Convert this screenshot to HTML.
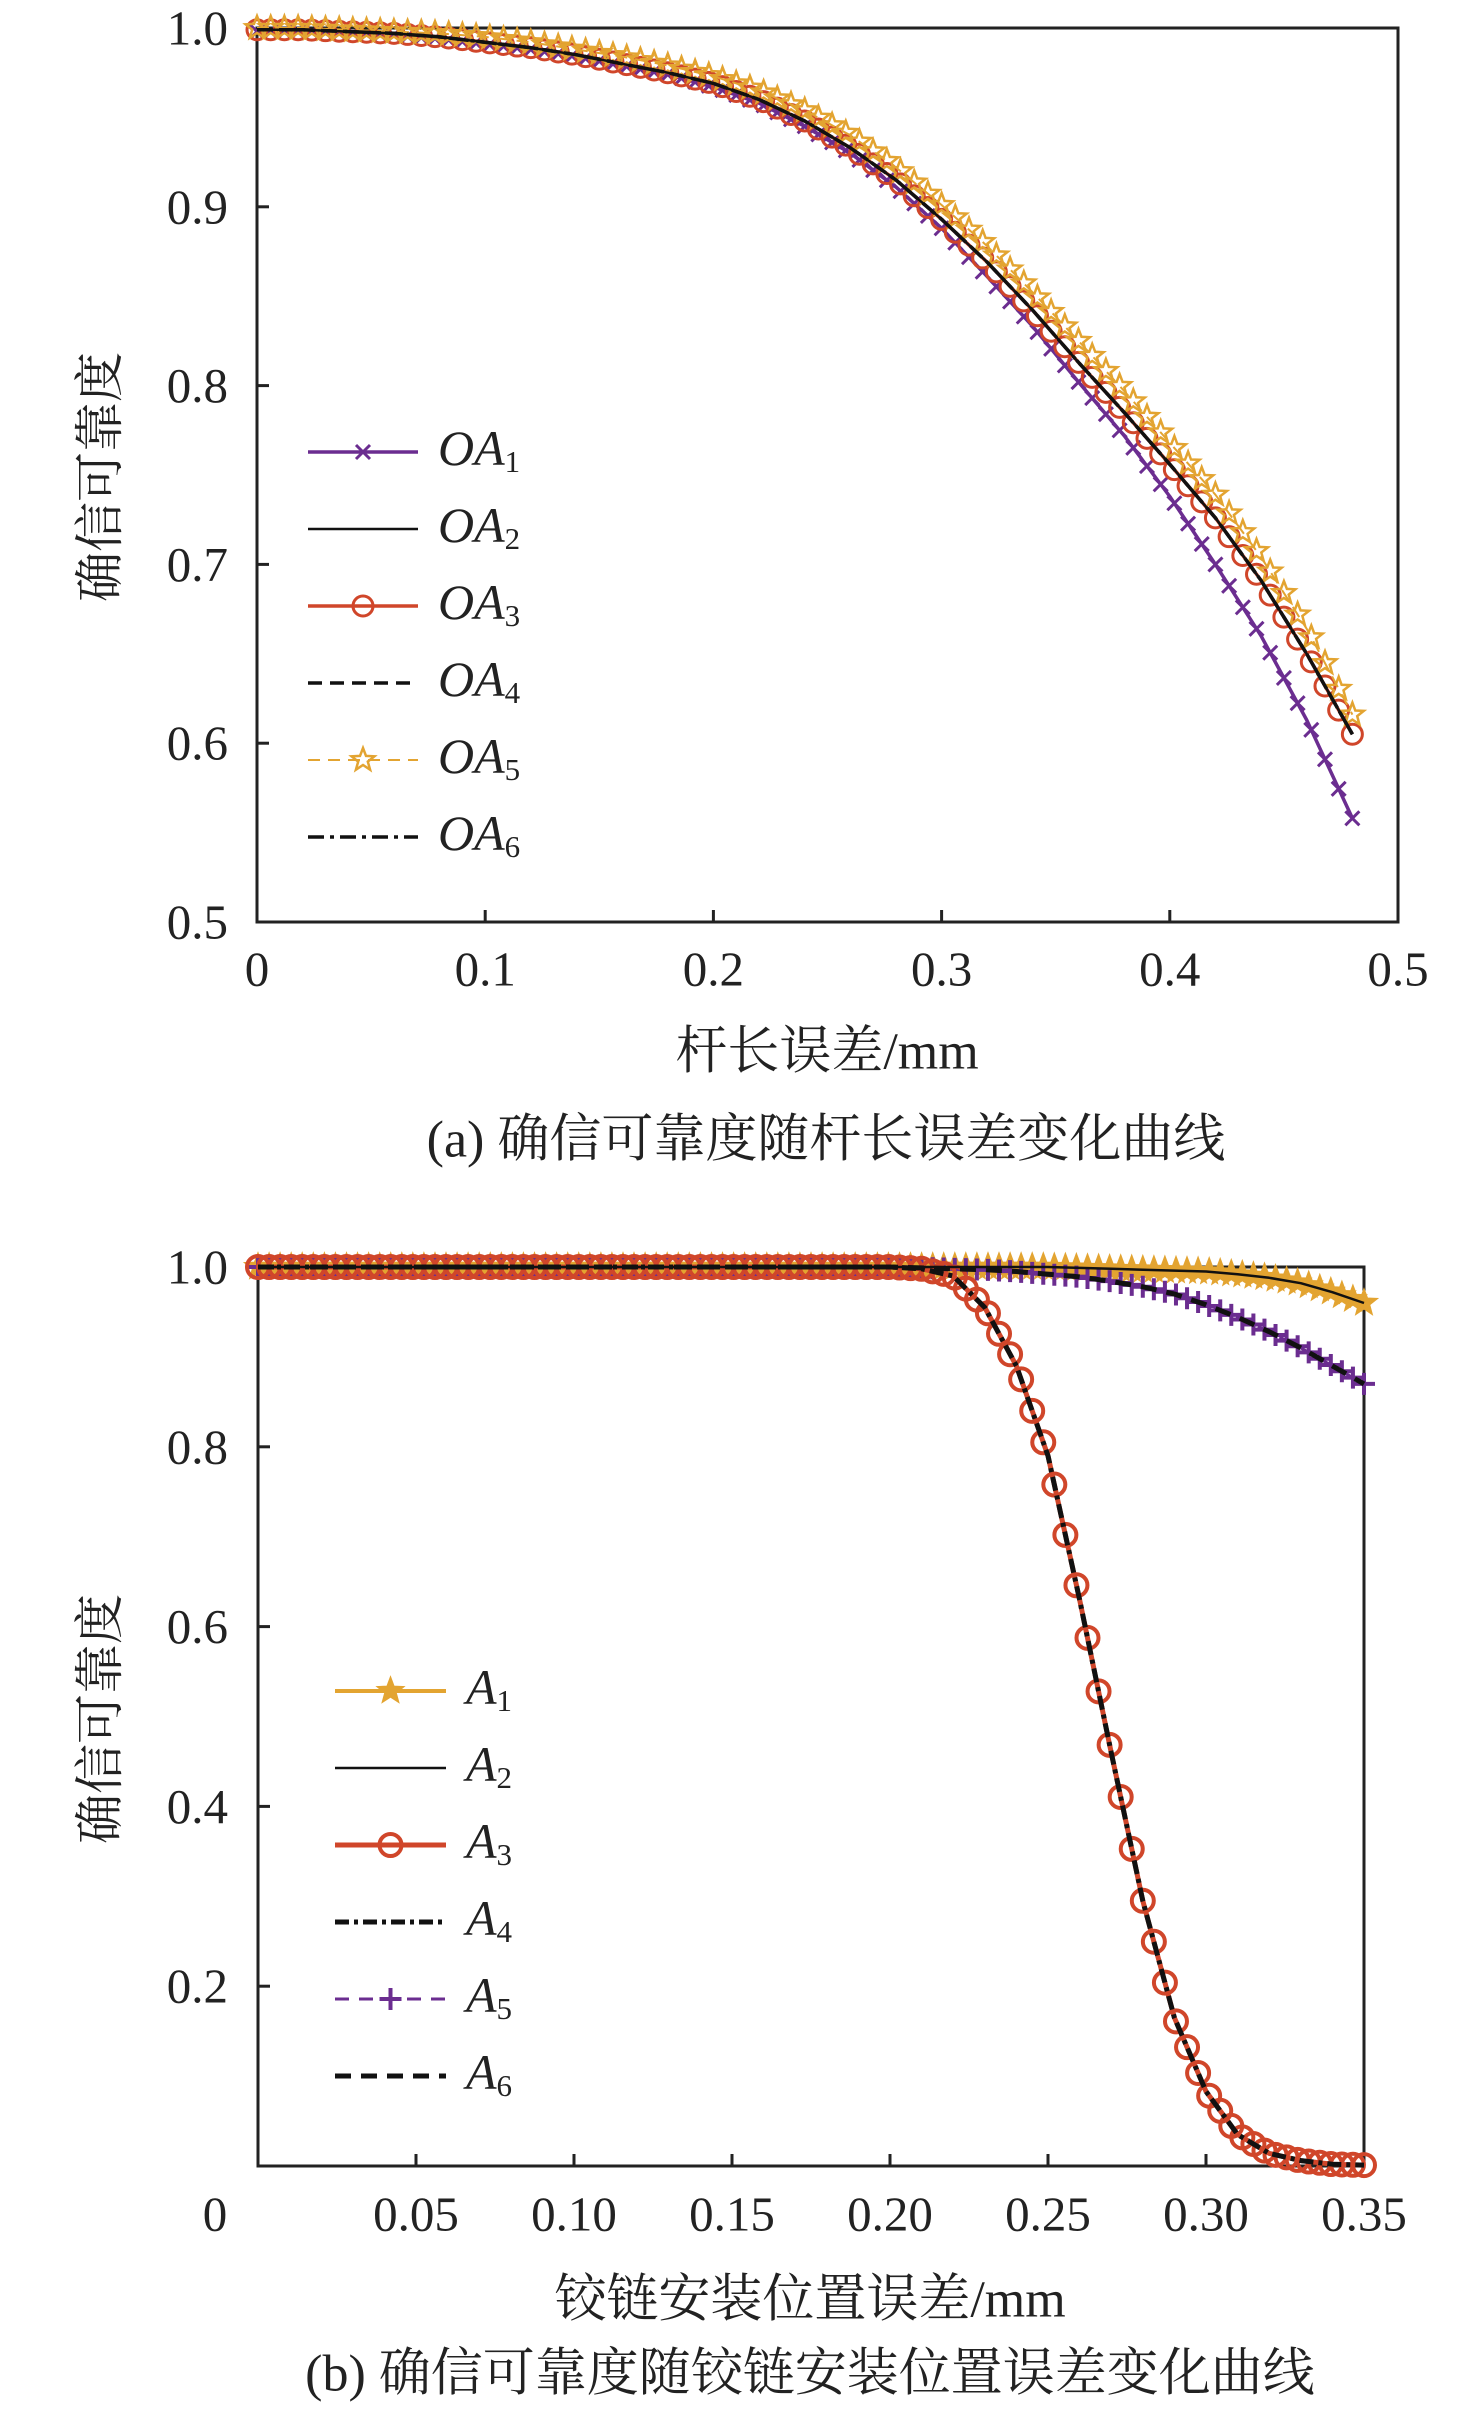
<!DOCTYPE html>
<html><head><meta charset="utf-8"><style>
html,body{margin:0;padding:0;background:#fff;width:1476px;height:2409px;overflow:hidden}
svg text{font-family:"Liberation Serif","Noto Serif CJK SC",serif;fill:#222}
</style></head><body>
<svg id="root" width="1476" height="2409" viewBox="0 0 1476 2409" xmlns="http://www.w3.org/2000/svg">
<g id="chartA"></g>
<g id="chartB"></g>
</svg>
<script>
// ---- Chart (a) data ----
const xA = [0,0.02,0.04,0.06,0.08,0.10,0.12,0.14,0.16,0.18,0.20,0.22,0.24,0.26,0.28,0.30,0.32,0.34,0.36,0.38,0.40,0.42,0.44,0.46,0.48];
const oaMid = [0.999,0.999,0.998,0.997,0.995,0.992,0.989,0.985,0.980,0.975,0.969,0.960,0.948,0.933,0.915,0.893,0.869,0.842,0.813,0.785,0.756,0.726,0.691,0.650,0.605];
const oa1 = [0.998,0.998,0.997,0.996,0.994,0.991,0.988,0.984,0.979,0.974,0.967,0.958,0.945,0.930,0.911,0.888,0.861,0.833,0.802,0.772,0.738,0.700,0.660,0.613,0.558];
const oa5 = [1.0,1.0,0.999,0.998,0.997,0.995,0.992,0.988,0.984,0.979,0.973,0.965,0.954,0.940,0.922,0.901,0.878,0.852,0.825,0.797,0.768,0.739,0.704,0.664,0.616];
const yTicksA = [0.5,0.6,0.7,0.8,0.9,1.0];
const yTickLabelsA = ["0.5","0.6","0.7","0.8","0.9","1.0"];
const xTicksA = [0,0.1,0.2,0.3,0.4,0.5];
const xTickLabelsA = ["0","0.1","0.2","0.3","0.4","0.5"];
// ---- Chart (b) data ----
const xB = [0,0.01,0.02,0.03,0.04,0.05,0.06,0.07,0.08,0.09,0.10,0.11,0.12,0.13,0.14,0.15,0.16,0.17,0.18,0.19,0.20,0.21,0.22,0.23,0.24,0.25,0.26,0.27,0.28,0.29,0.30,0.31,0.32,0.33,0.34,0.35];
const a12 = [1,1,1,1,1,1,1,1,1,1,1,1,1,1,1,1,1,1,1,1,1,1,1,1,1,1,0.999,0.998,0.997,0.996,0.995,0.992,0.988,0.982,0.972,0.96];
const a34 = [1,1,1,1,1,1,1,1,1,1,1,1,1,1,1,1,1,1,1,1,1,0.998,0.99,0.955,0.89,0.79,0.63,0.46,0.295,0.165,0.083,0.035,0.014,0.006,0.002,0.001];
const a56 = [1,1,1,1,1,1,1,1,1,1,1,1,1,1,1,1,1,1,1,1,1,0.999,0.998,0.997,0.995,0.992,0.989,0.984,0.978,0.97,0.958,0.944,0.928,0.91,0.89,0.87];
const yTicksB = [0.2,0.4,0.6,0.8,1.0];
const yTickLabelsB = ["0.2","0.4","0.6","0.8","1.0"];
const xTicksB = [0.05,0.10,0.15,0.20,0.25,0.30,0.35];
const xTickLabelsB = ["0.05","0.10","0.15","0.20","0.25","0.30","0.35"];

const NS="http://www.w3.org/2000/svg";
function mk(parent,tag,attrs){const e=document.createElementNS(NS,tag);for(const k in attrs)e.setAttribute(k,attrs[k]);parent.appendChild(e);return e;}
function interp(xs,ys,x){for(let i=1;i<xs.length;i++){if(x<=xs[i]+1e-12){const t=(x-xs[i-1])/(xs[i]-xs[i-1]);return ys[i-1]+t*(ys[i]-ys[i-1]);}}return ys[ys.length-1];}
function pathD(xs,ys,sx,sy){return xs.map((x,i)=>(i?'L':'M')+sx(x).toFixed(1)+' '+sy(ys[i]).toFixed(1)).join(' ');}
function starPts(cx,cy,r){let p=[];for(let i=0;i<10;i++){const a=-Math.PI/2+i*Math.PI/5;const rr=i%2?r*0.42:r;p.push((cx+rr*Math.cos(a)).toFixed(1)+','+(cy+rr*Math.sin(a)).toFixed(1));}return p.join(' ');}
function marker(g,type,cx,cy,color,size,sw,fill){
  if(type==='circle'){return mk(g,'circle',{cx,cy,r:size,fill:'none',stroke:color,'stroke-width':sw});}
  if(type==='star'){return mk(g,'polygon',{points:starPts(cx,cy,size),fill:fill?color:'none',stroke:color,'stroke-width':sw});}
  if(type==='x'){return mk(g,'path',{d:`M${cx-size} ${cy-size}L${cx+size} ${cy+size}M${cx-size} ${cy+size}L${cx+size} ${cy-size}`,stroke:color,'stroke-width':sw});}
  if(type==='plus'){return mk(g,'path',{d:`M${cx-size} ${cy}L${cx+size} ${cy}M${cx} ${cy-size}L${cx} ${cy+size}`,stroke:color,'stroke-width':sw});}
}
function txt(g,x,y,s,size,anchor,extra){const t=mk(g,'text',Object.assign({x,y,'font-size':size,'text-anchor':anchor||'middle','dominant-baseline':'central'},extra||{}));t.textContent=s;return t;}
function legendLabel(g,x,y,base,sub,size){const t=mk(g,'text',{x,y,'font-size':size,'dominant-baseline':'central','font-style':'italic'});t.textContent=base;const ts=mk(t,'tspan',{'font-size':size*0.62,'font-style':'normal',dy:13});ts.textContent=sub;return t;}

function drawChart(g,cfg){
  const {x0,x1,y0,y1,xmin,xmax,ymin,ymax}=cfg;
  const sx=v=>x0+(v-xmin)/(xmax-xmin)*(x1-x0);
  const sy=v=>y1-(v-ymin)/(ymax-ymin)*(y1-y0);
  const frame=mk(g,'rect',{x:x0,y:y0,width:x1-x0,height:y1-y0,fill:'none',stroke:'#222','stroke-width':3});
  
  cfg.yTicks.forEach((v,i)=>{
    const tk=mk(g,'line',{x1:x0,x2:x0+12,y1:sy(v),y2:sy(v),stroke:'#222','stroke-width':3});
    
    const l=txt(g,228,sy(v),cfg.yLabels[i],49,'end');
    
  });
  cfg.xTicks.forEach((v,i)=>{
    const tk=mk(g,'line',{x1:sx(v),x2:sx(v),y1:y1,y2:y1-12,stroke:'#222','stroke-width':3});
    
    const l=txt(g,sx(v),cfg.xLabelY,cfg.xLabels[i],49,'middle');
    
  });
  cfg.series.forEach(s=>{
    const sg=mk(g,'g',{});
    
    const p=mk(sg,'path',{d:pathD(cfg.xs,s.ys,sx,sy),fill:'none',stroke:s.color,'stroke-width':s.w,'stroke-dasharray':s.dash||'none','stroke-linejoin':'round'});
    
    if(s.marker){
      const xe=cfg.xs[cfg.xs.length-1];
      for(let k=0;k<=s.count;k++){const xv=xe*k/s.count;const m=marker(sg,s.marker,sx(xv),sy(interp(cfg.xs,s.ys,xv)),s.mcolor||s.color,s.msize,s.msw,s.mfill);
        }
    }
  });
  cfg.series.slice().sort((a,b)=>a.li-b.li).forEach((s,i)=>{
    const ly=cfg.legY+i*cfg.legDy;
    const lg=mk(g,'g',{});
    
    mk(lg,'line',{x1:cfg.legX0,x2:cfg.legX1,y1:ly,y2:ly,stroke:s.color,'stroke-width':s.w,'stroke-dasharray':s.dash||'none'});
    if(s.marker)marker(lg,s.marker,(cfg.legX0+cfg.legX1)/2,ly,s.mcolor||s.color,s.msize,s.msw,s.mfill);
    legendLabel(lg,cfg.legX1+20,ly-4,s.base,s.sub,50);
  });
  const xt=txt(g,cfg.xTitle[0],cfg.xTitle[1],cfg.xTitle[2],52,'middle');
  
  const yt=txt(g,0,0,'确信可靠度',50,'middle',{transform:`translate(${cfg.yTitle[0]},${cfg.yTitle[1]}) rotate(-90)`});
  
  const cap=txt(g,cfg.cap[0],cfg.cap[1],cfg.cap[2],52,'middle');
  
  return {sx,sy};
}
const PUR='#6b2d90',ORG='#e3a431',RED='#d0462a',BLK='#111';
drawChart(document.getElementById('chartA'),{
  x0:257,x1:1398,y0:28,y1:922,xmin:0,xmax:0.5,ymin:0.5,ymax:1.0,xs:xA,
  yTicks:yTicksA,yLabels:yTickLabelsA,xTicks:xTicksA,xLabels:xTickLabelsA,xLabelY:969,
  legX0:308,legX1:418,legY:452,legDy:77,
  xTitle:[827,1052,'杆长误差/mm'],yTitle:[100,477],cap:[826,1140,'(a) 确信可靠度随杆长误差变化曲线'],
  series:[
    {name:'oa1',li:0,base:'OA',sub:'1',ys:oa1,color:PUR,w:3.5,marker:'x',msize:7,msw:3,count:80},
    {name:'oa3',li:2,base:'OA',sub:'3',ys:oaMid,color:RED,w:3.5,marker:'circle',msize:10,msw:3,count:80},
    {name:'oa5',li:4,base:'OA',sub:'5',ys:oa5,color:ORG,w:2,dash:'12 8',marker:'star',msize:12,msw:2.5,count:80},
    {name:'oa2',li:1,base:'OA',sub:'2',ys:oaMid,color:BLK,w:2.5},
    {name:'oa4',li:3,base:'OA',sub:'4',ys:oaMid,color:BLK,w:3.5,dash:'14 8'},
    {name:'oa6',li:5,base:'OA',sub:'6',ys:oaMid,color:BLK,w:3.5,dash:'16 6 4 6'}
  ]
});
drawChart(document.getElementById('chartB'),{
  x0:258,x1:1364,y0:1267,y1:2166,xmin:0,xmax:0.35,ymin:0,ymax:1.0,xs:xB,
  yTicks:yTicksB,yLabels:yTickLabelsB,xTicks:xTicksB,xLabels:xTickLabelsB,xLabelY:2214,
  legX0:335,legX1:446,legY:1691,legDy:77,
  xTitle:[810,2300,'铰链安装位置误差/mm'],yTitle:[100,1719],cap:[810,2374,'(b) 确信可靠度随铰链安装位置误差变化曲线'],
  series:[
    {name:'a1',li:0,base:'A',sub:'1',ys:a12,color:ORG,w:4,marker:'star',msize:13,msw:2,mfill:true,count:100},
    {name:'a5',li:4,base:'A',sub:'5',ys:a56,color:PUR,w:3,dash:'14 10',marker:'plus',msize:11,msw:4,count:100},
    {name:'a3',li:2,base:'A',sub:'3',ys:a34,color:RED,w:5,marker:'circle',msize:11,msw:4,count:100},
    {name:'a2',li:1,base:'A',sub:'2',ys:a12,color:BLK,w:2.5},
    {name:'a4',li:3,base:'A',sub:'4',ys:a34,color:BLK,w:5,dash:'14 5 4 5'},
    {name:'a6',li:5,base:'A',sub:'6',ys:a56,color:BLK,w:5,dash:'16 10'}
  ]
});
// zero label for chart b
const z=document.createElementNS(NS,'text');
z.setAttribute('x',215);z.setAttribute('y',2214);z.setAttribute('font-size',49);z.setAttribute('text-anchor','middle');z.setAttribute('dominant-baseline','central');


z.textContent='0';document.getElementById('chartB').appendChild(z);
</script>
</body></html>
